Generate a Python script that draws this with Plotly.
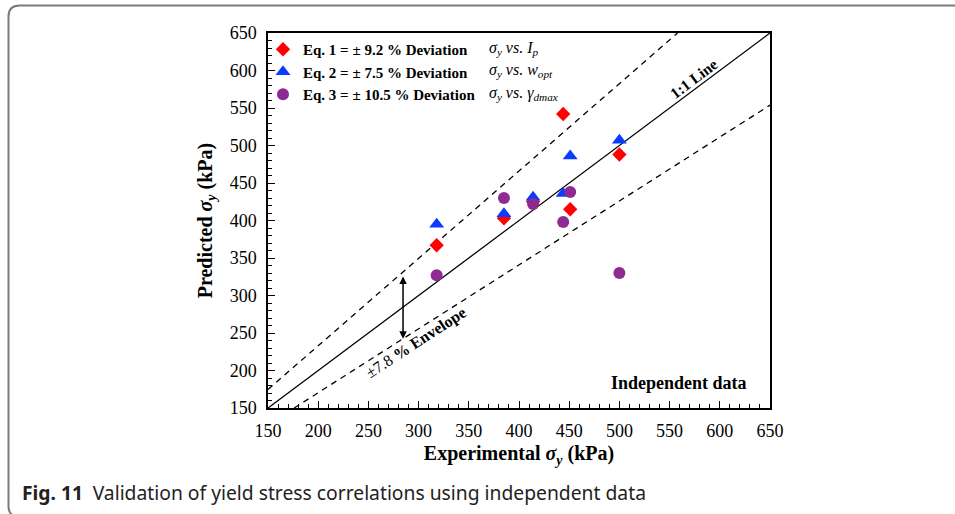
import plotly.graph_objects as go

# ---- data ----
experimental = [318, 385, 414, 444, 451, 500]
eq1_pred = [367, 403, 425, 542, 415, 488]
eq2_pred = [395, 409, 431, 436, 486, 507]
eq3_pred = [327, 430, 422, 398, 438, 330]

series_names = ["Eq. 1 = ± 9.2 % Deviation",
                "Eq. 2 = ± 7.5 % Deviation",
                "Eq. 3 = ± 10.5 % Deviation"]
series_notes = ["<i>σ<sub>y</sub> vs. I<sub>p</sub></i>",
                "<i>σ<sub>y</sub> vs. w<sub>opt</sub></i>",
                "<i>σ<sub>y</sub> vs. γ<sub>dmax</sub></i>"]

axis_min, axis_max = 150, 650
upper_ratio, lower_ratio = 1.165, 0.852
tick_vals = list(range(150, 651, 50))

SERIF = "Liberation Serif, Times New Roman, serif"
W, H = 955, 514
L, R, T, B = 268, 185, 33, 106
PW, PH = W - L - R, H - T - B


def px2paper(px, py):
    return (px - L) / PW, 1 - (py - T) / PH


fig = go.Figure()

# 1:1 line and envelope lines
fig.add_trace(go.Scatter(x=[axis_min, axis_max], y=[axis_min, axis_max], mode="lines",
                         line=dict(color="black", width=1.3), showlegend=False, hoverinfo="skip"))
fig.add_trace(go.Scatter(x=[axis_min, axis_max / upper_ratio],
                         y=[axis_min * upper_ratio, axis_max], mode="lines",
                         line=dict(color="black", width=1.3, dash="6px,5px"),
                         showlegend=False, hoverinfo="skip"))
fig.add_trace(go.Scatter(x=[axis_min / lower_ratio, axis_max],
                         y=[axis_min, axis_max * lower_ratio], mode="lines",
                         line=dict(color="black", width=1.3, dash="6px,5px"),
                         showlegend=False, hoverinfo="skip"))

# data series
fig.add_trace(go.Scatter(x=experimental, y=eq1_pred, mode="markers", name=series_names[0],
                         marker=dict(symbol="diamond", size=11, color="#FF0000")))
fig.add_trace(go.Scatter(x=experimental, y=eq2_pred, mode="markers", name=series_names[1],
                         marker=dict(symbol="triangle-up", size=13, color="#0A3CFF")))
fig.add_trace(go.Scatter(x=experimental, y=eq3_pred, mode="markers", name=series_names[2],
                         marker=dict(symbol="circle", size=12, color="#8E2A92")))

annotations = []
# legend second column
for i, note in enumerate(series_notes):
    xp, yp = px2paper(487, 48 + 23 * i)
    annotations.append(dict(x=xp, y=yp, xref="paper", yref="paper", text=note,
                            showarrow=False, xanchor="left", yanchor="middle",
                            font=dict(family=SERIF, size=16, color="black")))

# double-headed arrow for envelope
arrow_x = 284.5
annotations.append(dict(x=arrow_x, y=arrow_x * lower_ratio, ax=arrow_x, ay=arrow_x * upper_ratio - 4,
                        xref="x", yref="y", axref="x", ayref="y", text="",
                        showarrow=True, arrowhead=2, startarrowhead=2, arrowside="end+start",
                        arrowsize=1, arrowwidth=1.5, arrowcolor="black"))
# envelope label
annotations.append(dict(x=297, y=237, xref="x", yref="y",
                        text="±7.8 <b>% Envelope</b>", showarrow=False, textangle=-33,
                        font=dict(family=SERIF, size=16, color="black")))
# 1:1 line label
annotations.append(dict(x=574, y=590, xref="x", yref="y", text="<b>1:1 Line</b>",
                        showarrow=False, textangle=-37,
                        font=dict(family=SERIF, size=15.5, color="black")))
# independent data
annotations.append(dict(x=559.5, y=183, xref="x", yref="y", text="<b>Independent data</b>",
                        showarrow=False, font=dict(family=SERIF, size=18, color="black")))
# caption
cx, cy = px2paper(20, 492)
annotations.append(dict(x=cx, y=cy, xref="paper", yref="paper", xanchor="left", yanchor="middle",
                        text="<b>Fig. 11</b>\u2002Validation of yield stress correlations using independent data",
                        showarrow=False, font=dict(family="Noto Sans, Open Sans, sans-serif",
                                                   size=19.3, color="#222222")))

# outer rounded frame
x0, y0 = px2paper(8.5, 5.5)
x1, y1 = px2paper(990, 517)
rx, ry = 11 / PW, 11 / PH
path = (f"M {x0 + rx},{y0} L {x1},{y0} L {x1},{y1} L {x0 + rx},{y1} "
        f"Q {x0},{y1} {x0},{y1 + ry} L {x0},{y0 - ry} Q {x0},{y0} {x0 + rx},{y0} Z")
shapes = [dict(type="path", path=path, xref="paper", yref="paper",
               line=dict(color="#7a7a7a", width=2), layer="below")]

axis_common = dict(range=[axis_min, axis_max], tickvals=tick_vals, showline=True,
                   linecolor="black", linewidth=1.5, mirror=True, ticks="inside",
                   ticklen=7, tickwidth=1.2, tickcolor="black", showgrid=False, zeroline=False,
                   tickfont=dict(family=SERIF, size=18, color="black"),
                   minor=dict(dtick=10, ticks="inside", ticklen=4, tickwidth=1, tickcolor="black",
                              showgrid=False),
                   ticklabelstandoff=6)

fig.update_layout(
    width=W, height=H, margin=dict(l=L, r=R, t=T, b=B),
    paper_bgcolor="white", plot_bgcolor="white",
    xaxis=dict(**axis_common,
               title=dict(text="<b>Experimental <i>σ<sub>y</sub></i> (kPa)</b>",
                          font=dict(family=SERIF, size=20, color="black"), standoff=6)),
    yaxis=dict(**axis_common,
               title=dict(text="<b>Predicted <i>σ<sub>y</sub></i> (kPa)</b>",
                          font=dict(family=SERIF, size=20, color="black"), standoff=12)),
    legend=dict(x=(263 - L) / PW, y=1 - (33 - T) / PH, xanchor="left", yanchor="top",
                bgcolor="rgba(0,0,0,0)", borderwidth=0,
                font=dict(family=SERIF, size=15, color="black", weight="bold"),
                tracegroupgap=0),
    annotations=annotations, shapes=shapes,
    showlegend=True,
)

fig.write_html("out.html")
